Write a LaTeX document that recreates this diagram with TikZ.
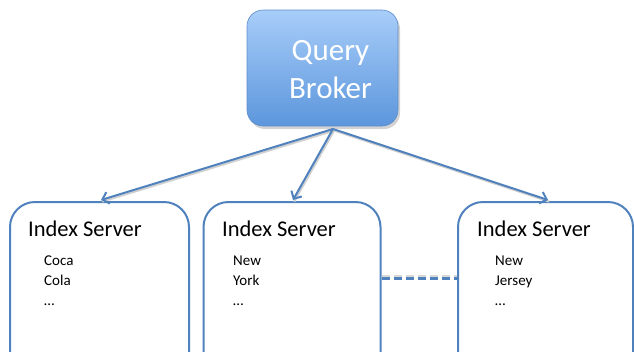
\documentclass[tikz,border=0pt]{standalone}
\usepackage{fontspec}
\setmainfont{Carlito}
\usetikzlibrary{arrows.meta,shadows}
\definecolor{officeblue}{RGB}{79,129,189}
\definecolor{brokertop}{RGB}{168,205,249}
\definecolor{brokerbot}{RGB}{92,150,220}
\definecolor{brokeredge}{RGB}{96,140,200}

\tikzset{
  broker/.style={draw=brokeredge, line width=0.6pt, rounded corners=16pt,
    top color=brokertop, bottom color=brokerbot,
    minimum width=151pt, minimum height=116pt,
    drop shadow={shadow xshift=2pt, shadow yshift=-3pt, opacity=0.35}},
  brokertext/.style={text=white, align=center, inner sep=0pt,
    font=\fontsize{31}{38}\selectfont},
  serverbox/.style={draw=officeblue, line width=2pt, rounded corners=25pt,
    minimum height=178pt, inner sep=0pt},
  title/.style={anchor=base west, inner sep=0pt, font=\fontsize{22.5}{26}\selectfont},
  items/.style={anchor=base west, inner sep=0pt, align=left,
    font=\fontsize{15}{20}\selectfont},
  link/.style={draw=officeblue, line width=2pt,
    -{Straight Barb[length=6pt,width=12pt,line width=2pt]}},
  linkshadow/.style={draw=black!18, line width=2pt},
  peer/.style={draw=officeblue, line width=3pt, dash pattern=on 8pt off 4pt}
}

\begin{document}
\begin{tikzpicture}[x=1pt,y=-1pt]
  \useasboundingbox (0,0) rectangle (634,351);
  \clip (0,0) rectangle (634,351);

  % the broker at the top
  \node[broker] (qb) at (322.5,68) {};
  \node[brokertext] (qbt) at ([xshift=8pt,yshift=-2pt]qb.center) {Query\\Broker};

  % the three index servers (their lower part runs off the page)
  \node[serverbox, minimum width=179pt] (s1) at (99.5,291) {};
  \node[serverbox, minimum width=177pt] (s2) at (292,291) {};
  \node[serverbox, minimum width=175pt] (s3) at (545.5,291) {};

  % server contents (items are anchored on the baseline of their last line)
  \node[title] (t1) at (28,236) {Index Server};
  \node[items] (i1) at (44,305) {Coca\\Cola\\…};
  \node[title] (t2) at (222,236) {Index Server};
  \node[items] (i2) at (233,305) {New\\York\\…};
  \node[title] (t3) at (477,236) {Index Server};
  \node[items] (i3) at (495,305) {New\\Jersey\\…};

  % fan-out from the broker
  \coordinate (src) at (333,129);
  \coordinate (a1) at (101,200);
  \coordinate (a2) at (293,200);
  \coordinate (a3) at (548,200);
  \foreach \t in {a1,a2,a3}
    \draw[linkshadow] ([shift={(1.2,1.6)}]src) -- ([shift={(1.2,1.6)}]\t);
  \draw[link] (src) -- (a1);
  \draw[link] (src) -- (a2);
  \draw[link] (src) -- (a3);

  % link between the outer servers
  \coordinate (p1) at (s2.east |- 0,278);
  \coordinate (p2) at (s3.west |- 0,278);
  \draw[peer, draw=black!15] ([yshift=2pt]p1) -- ([yshift=2pt]p2);
  \draw[peer] (p1) -- (p2);
\end{tikzpicture}
\end{document}
